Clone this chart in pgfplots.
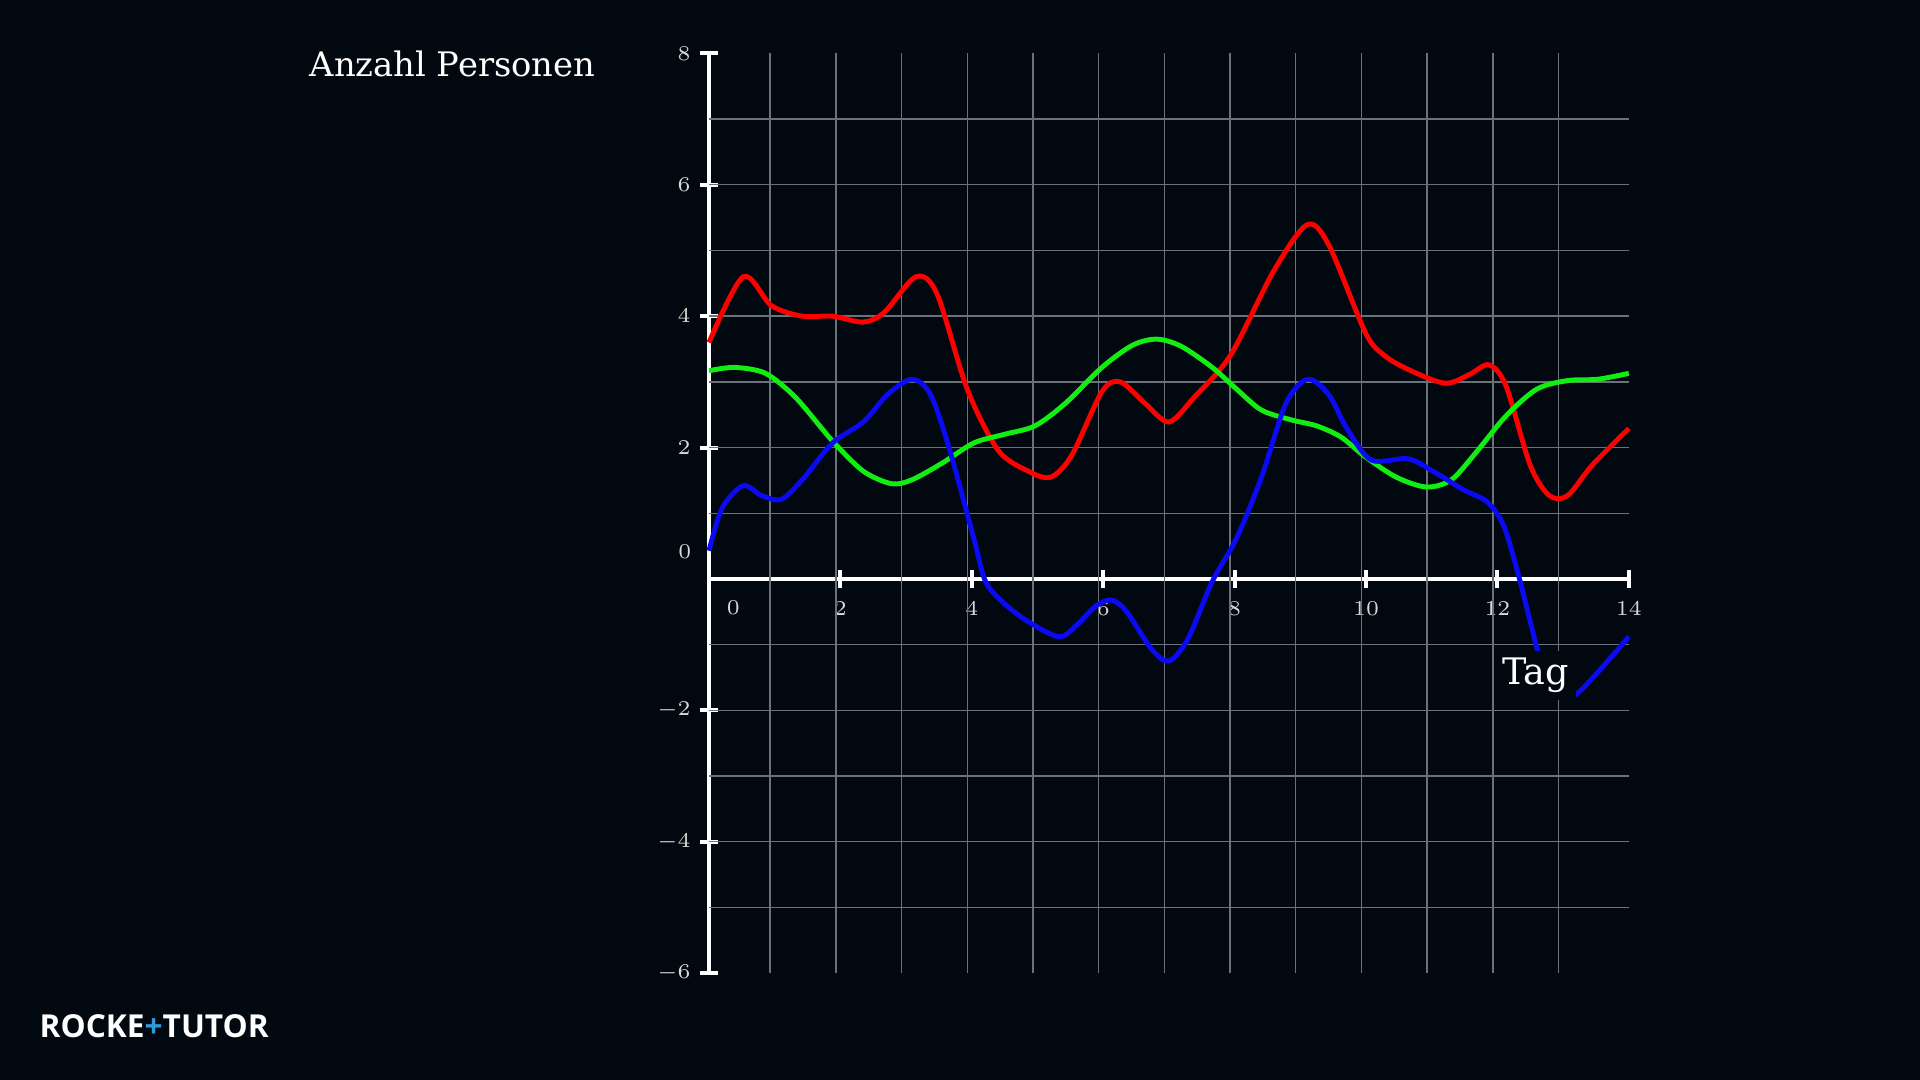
\documentclass[border=0pt]{standalone}
\usepackage{pgfplots}
\pgfplotsset{compat=1.18}
\usepackage{fontspec}
\newfontfamily\serifdv{DejaVu Serif}
\newfontfamily\logofont{Open Sans}
\definecolor{bg}{HTML}{02080F}
\definecolor{gridc}{HTML}{6A7178}
\definecolor{lblc}{HTML}{D8D8D8}
\definecolor{cred}{HTML}{FF0000}
\definecolor{cgreen}{HTML}{12EE12}
\definecolor{cblue}{HTML}{0A0AF5}
\definecolor{logob}{HTML}{2E9BDA}
\begin{document}
\begin{tikzpicture}
\fill[bg] (0,0) rectangle (19.2,10.8);
\begin{axis}[
  at={(7.09cm,5.01cm)}, anchor=origin,
  x=0.657cm, y=0.657cm,
  xmin=0, xmax=14, ymin=-6, ymax=8,
  axis lines*=middle,
  clip=false,
  axis line style={white, line width=1.1pt},
  xtick={2,4,...,14}, ytick={-6,-4,-2,2,4,6,8},
  tick align=center, major tick length=0.177cm,
  major tick style={white, line width=1.1pt},
  ticklabel style={font=\fontsize{6.2}{7}\selectfont, text=lblc, inner sep=0pt},
  xticklabel style={anchor=center, yshift=-0.21cm},
  yticklabel style={anchor=east, xshift=-0.09cm},
  extra x ticks={0.93,1.93,2.93,3.93,4.93,5.93,6.93,7.93,8.93,9.93,10.93,11.93,12.93},
  extra y ticks={-5,-4,-3,-2,-1,1,2,3,4,5,6,7},
  extra x tick style={grid=major, major tick length=0pt, xticklabel={}},
  extra y tick style={grid=major, major tick length=0pt, yticklabel={}},
  major grid style={gridc, line width=0.4pt},
]
\addplot[cred, line width=1.4pt, smooth] coordinates {
(0,3.6) (0.52,4.6) (0.95,4.16) (1.42,4.0) (1.88,4.0) (2.35,3.91) (2.67,4.06)
(3.15,4.6) (3.47,4.34) (3.93,2.89) (4.4,1.96) (4.86,1.64) (5.2,1.55) (5.52,1.88)
(5.98,2.85) (6.26,3.0) (6.64,2.67) (7.0,2.39) (7.38,2.76) (7.94,3.41) (8.59,4.68)
(9.1,5.39) (9.43,5.09) (9.99,3.75) (10.27,3.41) (10.64,3.19) (11.2,2.98) (11.57,3.11)
(11.87,3.26) (12.13,2.94) (12.5,1.73) (12.79,1.27) (13.07,1.27) (13.44,1.73) (14.0,2.29)
};
\addplot[cgreen, line width=1.4pt, smooth] coordinates {
(0,3.17) (0.39,3.22) (0.86,3.13) (1.32,2.76) (1.88,2.1) (2.35,1.64) (2.78,1.45)
(3.09,1.51) (3.56,1.77) (4.03,2.07) (4.49,2.2) (4.96,2.33) (5.42,2.67) (5.98,3.22)
(6.45,3.56) (6.82,3.65) (7.19,3.54) (7.66,3.22) (8.03,2.89) (8.41,2.57) (8.87,2.42)
(9.25,2.33) (9.62,2.16) (9.99,1.86) (10.46,1.55) (10.92,1.4) (11.3,1.51) (11.67,1.92)
(12.13,2.48) (12.6,2.89) (13.07,3.02) (13.53,3.04) (14,3.13)
};
\addplot[cblue, line width=1.4pt, smooth] coordinates {
(0,0.43) (0.2,1.08) (0.52,1.42) (0.8,1.27) (1.1,1.21) (1.42,1.51) (1.88,2.07)
(2.35,2.39) (2.72,2.81) (3.09,3.04) (3.37,2.81) (3.65,2.01) (4.03,0.62) (4.21,-0.04)
(4.49,-0.37) (4.86,-0.65) (5.33,-0.88) (5.61,-0.69) (5.89,-0.41) (6.13,-0.32)
(6.36,-0.5) (6.73,-1.06) (7.0,-1.25) (7.29,-0.91) (7.66,-0.04) (8.03,0.62) (8.41,1.55)
(8.78,2.67) (9.11,3.04) (9.43,2.81) (9.71,2.29) (10.08,1.81) (10.64,1.83) (11.02,1.64)
(11.48,1.36) (11.85,1.17) (12.1,0.8) (12.32,0.06) (12.51,-0.69) (12.64,-1.16)
(12.9,-1.6) (13.15,-1.78) (13.5,-1.45) (14,-0.88)
};
\node[font=\fontsize{6.2}{7}\selectfont, text=lblc, inner sep=0pt] at (axis cs:-0.37,0.41) {$0$};
\node[font=\fontsize{6.2}{7}\selectfont, text=lblc, inner sep=0pt] at (axis cs:0.37,-0.43) {$0$};
\node[fill=bg, text=white, font=\serifdv\fontsize{10.4}{12}\selectfont, inner sep=2pt] at (axis cs:12.58,-1.47) {Tag};
\end{axis}
\node[anchor=base west, text=white, font=\serifdv\fontsize{9.6}{11}\selectfont, inner sep=0pt] at (3.09,10.03) {Anzahl Personen};
\node[anchor=west, text=white, font=\logofont\bfseries\fontsize{9}{10}\selectfont, inner sep=0pt] at (0.39,0.54) {ROCKE\textcolor{logob}{+}TUTOR};
\end{tikzpicture}
\end{document}
